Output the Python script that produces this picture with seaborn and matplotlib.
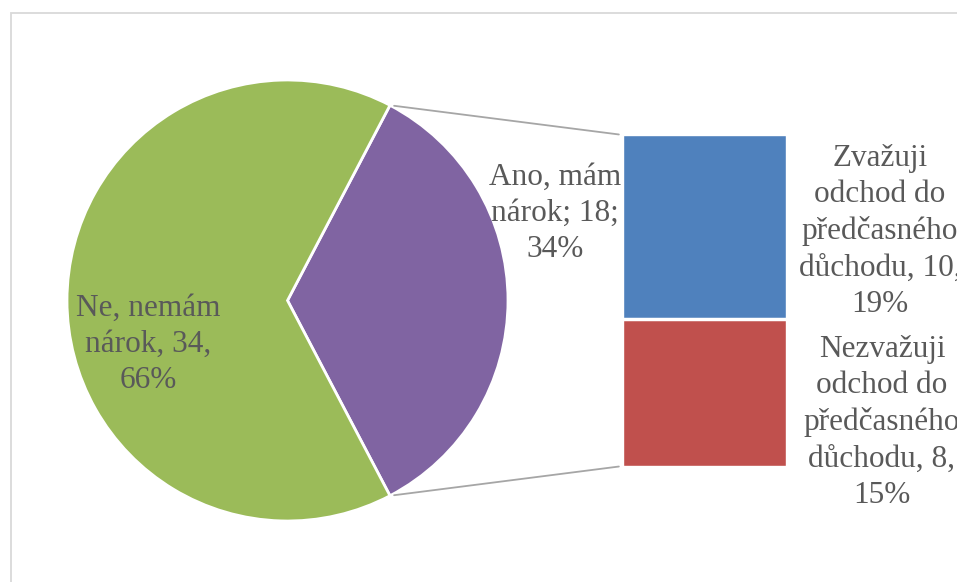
import math
import matplotlib
matplotlib.use("Agg")
import matplotlib.pyplot as plt
from matplotlib.patches import ConnectionPatch, Rectangle
import pandas as pd
import seaborn as sns

# Pie: entitlement to early retirement (count, share in %)
pie_names = ["Ano, mám\nnárok", "Ne, nemám\nnárok"]
pie_values = [18, 34]
pie_pct = [34, 66]
pie_colors = ["#8064A2", "#9BBB59"]
pie_sep = ["; ", ", "]

# Bar: what the entitled respondents consider (count, share in %)
bar_names = ["Zvažuji\nodchod do\npředčasného\ndůchodu", "Nezvažuji\nodchod do\npředčasného\ndůchodu"]
bar_values = [10, 8]
bar_pct = [19, 15]
bar_colors = ["#4F81BD", "#C0504D"]

W, H = 957, 582
TEXT = "#595959"

sns.set_theme(style="white")
plt.rcParams["font.family"] = ["Liberation Serif", "DejaVu Serif"]

fig = plt.figure(figsize=(W / 100, H / 100), dpi=100)
fig.patch.set_facecolor("white")

# Main axes in pixel units (y pointing up)
ax = fig.add_axes([0, 0, 1, 1])
cx, cy, r = 287.5, H - 300.5, 220.5
start = -180 * pie_values[0] / sum(pie_values)
wedges, _ = ax.pie(pie_values, colors=pie_colors, startangle=start,
                   center=(cx, cy), radius=r, counterclock=True,
                   wedgeprops=dict(edgecolor="white", linewidth=2))
ax.set_xlim(0, W)
ax.set_ylim(0, H)
ax.set_aspect("equal")
ax.axis("off")

# Chart area border
ax.add_patch(Rectangle((10.5, -20), 1100, (H - 13) + 20, fill=False,
                       edgecolor="#D9D9D9", linewidth=1.3, clip_on=False))

fs = 22.5
ls = 1.33
# positions: centre x, baseline of the last line (pixels from top)
label_pos = [(555, 257), (148, 388)]
for name, v, p, sep, (lx, ly) in zip(pie_names, pie_values, pie_pct, pie_sep, label_pos):
    ax.text(lx, H - ly, f"{name}{sep}{v}{sep.strip()}\n{p}%", ha="center", va="baseline",
            multialignment="center", fontsize=fs, color=TEXT, linespacing=ls)

# Stacked bar of the "Ano" slice
bax = fig.add_axes([623 / W, (H - 466) / H, 163 / W, 331 / H])
total = sum(bar_values)
df_top = pd.DataFrame({"g": [""], "v": [total]})
df_bot = pd.DataFrame({"g": [""], "v": [bar_values[1]]})
sns.barplot(data=df_top, x="g", y="v", color=bar_colors[0], saturation=1,
            width=1, errorbar=None, ax=bax)
sns.barplot(data=df_bot, x="g", y="v", color=bar_colors[1], saturation=1,
            width=1, errorbar=None, ax=bax)
bax.axhline(bar_values[1], color="white", linewidth=2.5)
bax.set_xlim(-0.5, 0.5)
bax.set_ylim(0, total)
bax.axis("off")

bar_label_pos = [(880, 312), (882, 503)]
for name, v, p, (lx, ly) in zip(bar_names, bar_values, bar_pct, bar_label_pos):
    ax.text(lx, H - ly, f"{name}, {v},\n{p}%", ha="center", va="baseline",
            multialignment="center", fontsize=fs, color=TEXT, linespacing=ls)

# Connector lines from the "Ano" wedge to the bar
w = wedges[0]
for ang, yb in [(w.theta2, total), (w.theta1, 0)]:
    px = cx + r * math.cos(math.radians(ang))
    py = cy + r * math.sin(math.radians(ang))
    con = ConnectionPatch(xyA=(px, py), coordsA=ax.transData,
                          xyB=(-0.5, yb), coordsB=bax.transData,
                          color="#A6A6A6", linewidth=1.3, shrinkA=3, shrinkB=3)
    fig.add_artist(con)

fig.savefig("out.png", dpi=100, facecolor="white")
